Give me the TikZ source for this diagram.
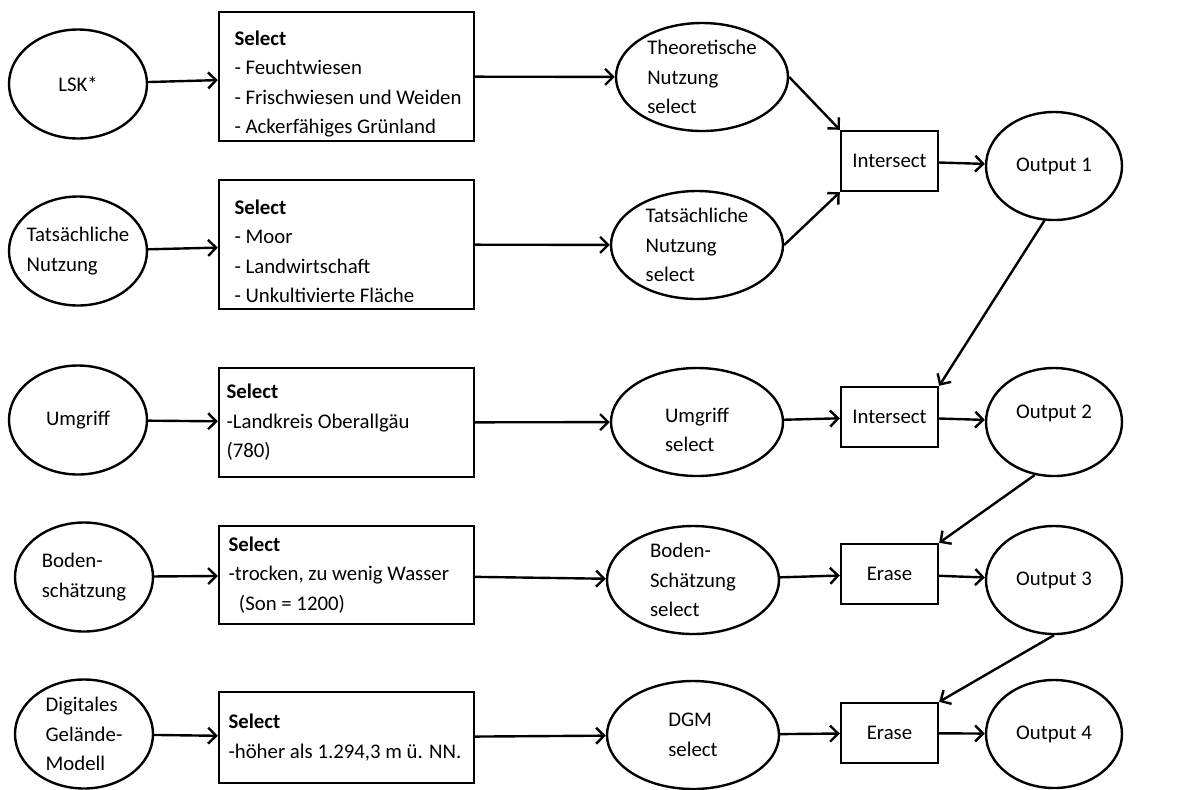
\documentclass[tikz,border=0pt]{standalone}
\usepackage{fontspec}
\setmainfont{Carlito}
\usetikzlibrary{arrows.meta}
\usetikzlibrary{shapes.geometric}

\begin{document}
\begin{tikzpicture}[x=0.5pt,y=-0.5pt,font=\fontsize{10.4}{14.75}\selectfont]
  \tikzset{source/.style = {shape=ellipse,draw,line width=1.2pt,minimum width=69pt,minimum height=54.5pt,inner sep=-2pt,align=flush left}}
  \tikzset{layer/.style = {source,minimum width=86pt,minimum height=54pt}}
  \tikzset{result/.style = {source,minimum width=68pt,minimum height=54pt,align=center}}
  \tikzset{query/.style = {shape=rectangle,draw,line width=1.2pt,text width=120pt,inner xsep=3.75pt,inner ysep=1pt,align=flush left}}
  \tikzset{tool/.style = {shape=rectangle,draw,line width=1.2pt,minimum width=48.5pt,minimum height=30pt,inner sep=0pt}}
  \tikzset{flow/.style = {-{Straight Barb[length=4pt,width=8pt]},line width=1.2pt}}

  \useasboundingbox (0,0) rectangle (1185,789);

	% input data
	\node[source,align=center] (lsk) at (78,84) {LSK*};
	\node[source] (tn) at (78,251) {Tatsächliche\\Nutzung};
	\node[source,align=center] (umg) at (78,420) {Umgriff};
	\node[source] (bod) at (84,577) {Boden-\\schätzung};
	\node[source] (dgm) at (84,734) {Digitales\\Gelände-\\Modell};

	% selections
	\node[query,minimum height=64.5pt] (sel1) at (346.5,76.5) {\rule{0pt}{15pt}\hspace*{4pt}\textbf{Select}\\\hspace*{4pt}- Feuchtwiesen\\\hspace*{4pt}- Frischwiesen und Weiden\\\hspace*{4pt}- Ackerfähiges Grünland};
	\node[query,minimum height=64.5pt] (sel2) at (346.5,244.5) {\rule{0pt}{14pt}\hspace*{4pt}\textbf{Select}\\\hspace*{4pt}- Moor\\\hspace*{4pt}- Landwirtschaft\\\hspace*{4pt}- Unkultivierte Fläche};
	\node[query,minimum height=54.5pt] (sel3) at (346.5,422.5) {\textbf{Select}\\-Landkreis Oberallgäu\\(780)};
	\node[query,minimum height=49pt] (sel4) at (346.5,575) {\hspace*{1pt}\textbf{Select}\\\hspace*{1pt}-trocken, zu wenig Wasser\\\hspace*{0.6em}(Son = 1200)};
	\node[query,minimum height=45.5pt] (sel5) at (346.5,737.5) {\hspace*{1pt}\textbf{Select}\\\hspace*{1pt}-höher als 1.294,3 m ü. NN.};

	% selected layers
	\node[layer] (theo) at (702,77) {Theoretische\\Nutzung\\select};
	\node[layer] (tats) at (697,245) {Tatsächliche\\Nutzung\\select};
	\node[layer] (umgs) at (697,422) {\rule{0pt}{15pt}Umgriff\\select};
	\node[layer] (bods) at (693,580) {Boden-\\Schätzung\\select};
	\node[layer] (dgms) at (693,735) {DGM\\select};

	% overlay tools
	\node[tool] (isect1) at (889.5,161) {Intersect};
	\node[tool] (isect2) at (889.5,417) {Intersect};
	\node[tool] (erase1) at (889.5,574) {Erase};
	\node[tool] (erase2) at (889.5,733) {Erase};

	% outputs
	\node[result] (out1) at (1054,166) {Output 1};
	\node[result] (out2) at (1054,422) {\raisebox{10pt}{Output 2}};
	\node[result] (out3) at (1054,580) {Output 3};
	\node[result] (out4) at (1054,734) {Output 4};

       \foreach \from/\to in {lsk/sel1, tn/sel2, umg/sel3, bod/sel4, dgm/sel5,
                              sel1/theo, sel2/tats, sel3/umgs, sel4/bods, sel5/dgms,
                              theo.east/isect1.north west, tats.east/isect1.south west,
                              umgs/isect2, bods/erase1, dgms/erase2,
                              isect1/out1, isect2/out2, erase1/out3, erase2/out4,
                              out1.260/isect2.north east, out2.250/erase1.north east,
                              out3.south/erase2.north east}
    \path[flow] (\from) edge (\to);
\end{tikzpicture}
\end{document}
